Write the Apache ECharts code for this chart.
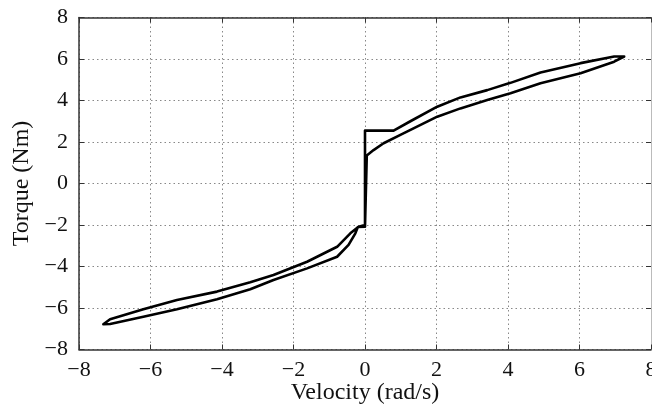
<!DOCTYPE html>
<html>
<head>
<meta charset="utf-8">
<script src="https://cdn.jsdelivr.net/npm/echarts@6/dist/echarts.min.js"></script>
<style>
  html, body { margin: 0; padding: 0; background: #fff; }
  #chart { width: 652px; height: 414px; }
</style>
</head>
<body>
<div id="chart"></div>
<script>
// Friction hysteresis loop: torque vs. velocity
// Each branch is a list of [velocity (rad/s), torque (Nm)] points.
const stickUp = [[0, -2.0], [0, 2.55]];
const posAccel = [[0.8, 2.55], [1.27, 3.0], [2.02, 3.7], [2.67, 4.15], [3.42, 4.5], [4.07, 4.85], [4.91, 5.35], [6.03, 5.8], [6.97, 6.12], [7.25, 6.12], [7.29, 6.08]];
const posDecel = [[6.97, 5.87], [6.03, 5.31], [4.91, 4.83], [4.07, 4.35], [3.42, 4.02], [2.67, 3.62], [2.02, 3.22], [0.99, 2.34], [0.52, 1.94], [0.24, 1.61], [0.05, 1.35], [0, 1.29]];
const stickDown = [[0, -2.08]];
const negAccel = [[-0.2, -2.1], [-0.27, -2.4], [-0.46, -2.96], [-0.78, -3.53], [-1.62, -4.09], [-2.56, -4.65], [-3.21, -5.1], [-4.14, -5.58], [-5.26, -6.06], [-6.2, -6.42], [-7.13, -6.77], [-7.32, -6.78]];
const negDecel = [[-7.32, -6.74], [-7.13, -6.54], [-6.2, -6.06], [-5.26, -5.61], [-4.14, -5.21], [-3.21, -4.76], [-2.56, -4.41], [-1.62, -3.77], [-0.78, -3.05], [-0.41, -2.4], [-0.18, -2.08], [0, -2.0]];

const xTicks = [-8, -6, -4, -2, 0, 2, 4, 6, 8];
const yTicks = [-8, -6, -4, -2, 0, 2, 4, 6, 8];

const loop = [].concat(stickUp, posAccel, posDecel, stickDown, negAccel, negDecel);

const fmt = v => (v < 0 ? '\u2212' + Math.abs(v) : String(v));
const font = 'Liberation Serif';
const dark = '#333';

const baseAxis = {
  type: 'value',
  min: xTicks[0], max: xTicks[xTicks.length - 1], interval: xTicks[1] - xTicks[0],
  axisTick: { show: true, inside: true, length: 5, lineStyle: { color: dark, width: 1 } },
  splitLine: { show: false }
};
const yRange = { min: yTicks[0], max: yTicks[yTicks.length - 1], interval: yTicks[1] - yTicks[0] };

const chart = echarts.init(document.getElementById('chart'), null, { renderer: 'canvas' });
chart.setOption({
  animation: false,
  grid: { left: 79, right: 1, top: 17.5, bottom: 64.5, containLabel: false, outerBoundsMode: 'none' },
  xAxis: [
    Object.assign({}, baseAxis, {
      position: 'bottom',
      name: 'Velocity (rad/s)', nameLocation: 'middle', nameGap: 31, nameMoveOverlap: false,
      nameTextStyle: { fontFamily: font, fontSize: 24, color: '#111' },
      axisLine: { show: true, onZero: false, lineStyle: { color: dark, width: 1.5 } },
      axisLabel: { fontFamily: font, fontSize: 22, color: '#111', margin: 10, formatter: fmt },
      splitLine: { show: true, lineStyle: { color: '#888', width: 1, type: [1.5, 3] } }
    }),
    Object.assign({}, baseAxis, {
      position: 'top',
      axisLine: { show: true, onZero: false, lineStyle: { color: dark, width: 1.5 } },
      axisLabel: { show: false }
    })
  ],
  yAxis: [
    Object.assign({}, baseAxis, yRange, {
      position: 'left',
      name: 'Torque (Nm)', nameLocation: 'middle', nameGap: 45, nameMoveOverlap: false,
      nameTextStyle: { fontFamily: font, fontSize: 24, color: '#111' },
      axisLine: { show: true, onZero: false, lineStyle: { color: dark, width: 1.5 } },
      axisLabel: { fontFamily: font, fontSize: 22, color: '#111', margin: 11, formatter: fmt },
      splitLine: { show: true, lineStyle: { color: '#888', width: 1, type: [1.5, 3] } }
    }),
    Object.assign({}, baseAxis, yRange, {
      position: 'right',
      axisLine: { show: true, onZero: false, lineStyle: { color: '#bbb', width: 1 } },
      axisLabel: { show: false }
    })
  ],
  series: [{
    type: 'line',
    xAxisIndex: 0, yAxisIndex: 0,
    data: loop,
    showSymbol: false,
    smooth: false,
    lineStyle: { color: '#000', width: 2.6, join: 'round' }
  }]
});
</script>
</body>
</html>
